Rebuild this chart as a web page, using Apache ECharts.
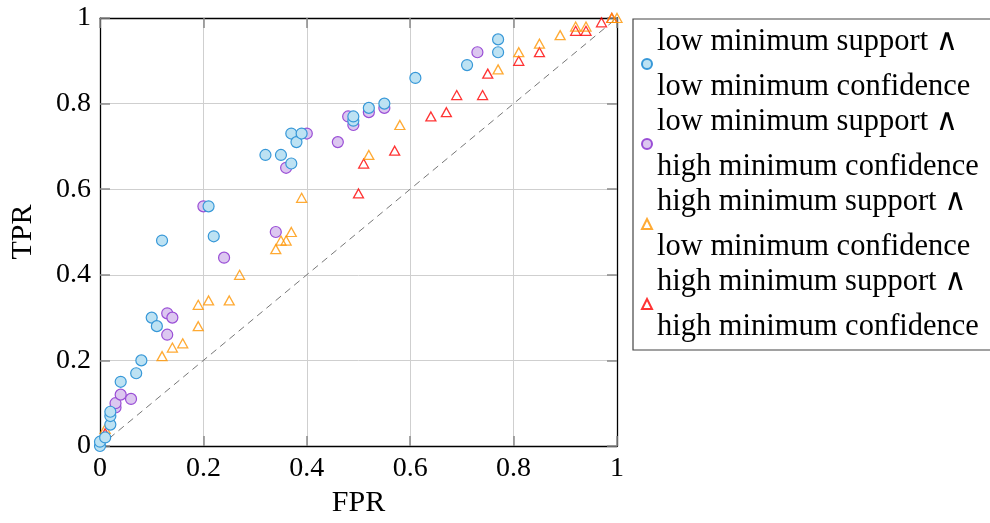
<!DOCTYPE html>
<html>
<head>
<meta charset="utf-8">
<script src="https://cdn.jsdelivr.net/npm/echarts@6/dist/echarts.min.js"></script>
<style>
html,body{margin:0;padding:0;background:#fff;}
#chart{width:990px;height:523px;}
</style>
</head>
<body>
<div id="chart"></div>
<script>
var seriesNames = [
  'low minimum support \u2227\nlow minimum confidence',
  'low minimum support \u2227\nhigh minimum confidence',
  'high minimum support \u2227\nlow minimum confidence',
  'high minimum support \u2227\nhigh minimum confidence'
];
var xTicks = [0, 0.2, 0.4, 0.6, 0.8, 1];
var yTicks = [0, 0.2, 0.4, 0.6, 0.8, 1];

var lowLow = [[0,0],[0,0.01],[0.01,0.02],[0.02,0.05],[0.02,0.07],[0.02,0.08],[0.04,0.15],[0.07,0.17],[0.08,0.20],[0.10,0.30],[0.11,0.28],[0.12,0.48],[0.21,0.56],[0.22,0.49],[0.32,0.68],[0.35,0.68],[0.37,0.73],[0.38,0.71],[0.39,0.73],[0.37,0.66],[0.49,0.76],[0.49,0.77],[0.52,0.79],[0.55,0.80],[0.61,0.86],[0.71,0.89],[0.77,0.92],[0.77,0.95]];
var lowHigh = [[0.03,0.09],[0.03,0.10],[0.04,0.12],[0.06,0.11],[0.13,0.26],[0.13,0.31],[0.14,0.30],[0.20,0.56],[0.24,0.44],[0.34,0.50],[0.36,0.65],[0.40,0.73],[0.46,0.71],[0.48,0.77],[0.49,0.75],[0.52,0.78],[0.55,0.79],[0.73,0.92]];
var highLow = [[0.01,0.04],[0.12,0.21],[0.14,0.23],[0.16,0.24],[0.19,0.28],[0.19,0.33],[0.21,0.34],[0.25,0.34],[0.27,0.40],[0.34,0.46],[0.35,0.48],[0.36,0.48],[0.37,0.50],[0.39,0.58],[0.52,0.68],[0.58,0.75],[0.77,0.88],[0.81,0.92],[0.85,0.94],[0.89,0.96],[0.92,0.98],[0.94,0.98],[0.99,1.0],[1.0,1.0]];
var highHigh = [[0.01,0.03],[0.50,0.59],[0.51,0.66],[0.57,0.69],[0.64,0.77],[0.67,0.78],[0.69,0.82],[0.74,0.82],[0.75,0.87],[0.81,0.90],[0.85,0.92],[0.92,0.97],[0.94,0.97],[0.97,0.99],[0.99,1.0]];
var diagonal = [[0,0],[1,1]];

var FONT = '"Liberation Serif", "DejaVu Serif", serif';
var chart = echarts.init(document.getElementById('chart'), null, {renderer:'canvas'});

function axisCommon(extra){
  var a = {
    type:'value', min:0, max:1, interval:0.2,
    axisLine:{show:true, onZero:false, lineStyle:{color:'#000', width:1.3}},
    axisTick:{show:true, inside:true, length:10, lineStyle:{color:'#8a8a8a', width:1.5}},
    splitLine:{show:false},
    axisLabel:{show:false}
  };
  for (var k in extra) a[k] = extra[k];
  return a;
}

var option = {
  animation:false,
  backgroundColor:'#fff',
  grid:{left:99, top:18, width:518, height:431, containLabel:false},
  legend:{
    data: seriesNames.slice(),
    orient:'vertical',
    left:633, top:19,
    padding:[0,30,1,8],
    itemGap:-10,
    itemWidth:10, itemHeight:10,
    borderColor:'#444', borderWidth:1.2,
    textStyle:{fontFamily:FONT, fontSize:30.5, lineHeight:45, color:'#000'},
    selectedMode:false
  },
  xAxis:[
    axisCommon({
      position:'bottom',
      name:'FPR', nameLocation:'middle', nameGap:42,
      nameTextStyle:{fontFamily:FONT, fontSize:30, color:'#000'},
      splitLine:{show:true, lineStyle:{color:'#cfcfcf', width:1}},
      axisLabel:{show:true, fontFamily:FONT, fontSize:28, color:'#000', margin:9,
        formatter:function(v){ return xTicks.indexOf(Math.round(v*10)/10) >= 0 ? String(Math.round(v*10)/10) : ''; }}
    }),
    axisCommon({position:'top'})
  ],
  yAxis:[
    axisCommon({
      position:'left',
      name:'TPR', nameLocation:'middle', nameGap:62,
      nameTextStyle:{fontFamily:FONT, fontSize:30, color:'#000'},
      splitLine:{show:true, lineStyle:{color:'#cfcfcf', width:1}},
      axisLabel:{show:true, fontFamily:FONT, fontSize:28, color:'#000', margin:9,
        formatter:function(v){ return yTicks.indexOf(Math.round(v*10)/10) >= 0 ? String(Math.round(v*10)/10) : ''; }}
    }),
    axisCommon({position:'right'})
  ],
  series:[
    {
      type:'line', data:diagonal, showSymbol:false, symbol:'none', silent:true, z:1,
      lineStyle:{color:'#777777', width:1, type:[7,5]}
    },
    {
      name:seriesNames[3], type:'scatter', data:highHigh, z:2,
      symbol:'triangle', symbolSize:[10,9],
      itemStyle:{color:'rgba(255,255,255,0)', borderColor:'#ff0000', borderWidth:1.3}
    },
    {
      name:seriesNames[2], type:'scatter', data:highLow, z:3,
      symbol:'triangle', symbolSize:[10,9],
      itemStyle:{color:'rgba(255,255,255,0)', borderColor:'#ff9500', borderWidth:1.3}
    },
    {
      name:seriesNames[1], type:'scatter', data:lowHigh, z:4,
      symbol:'circle', symbolSize:11,
      itemStyle:{color:'#dcc7f0', borderColor:'#9a4ed6', borderWidth:1.2, opacity:1}
    },
    {
      name:seriesNames[0], type:'scatter', data:lowLow, z:5,
      symbol:'circle', symbolSize:11,
      itemStyle:{color:'#bde2f3', borderColor:'#3798d8', borderWidth:1.2, opacity:1}
    }
  ]
};
chart.setOption(option);
</script>
</body>
</html>
